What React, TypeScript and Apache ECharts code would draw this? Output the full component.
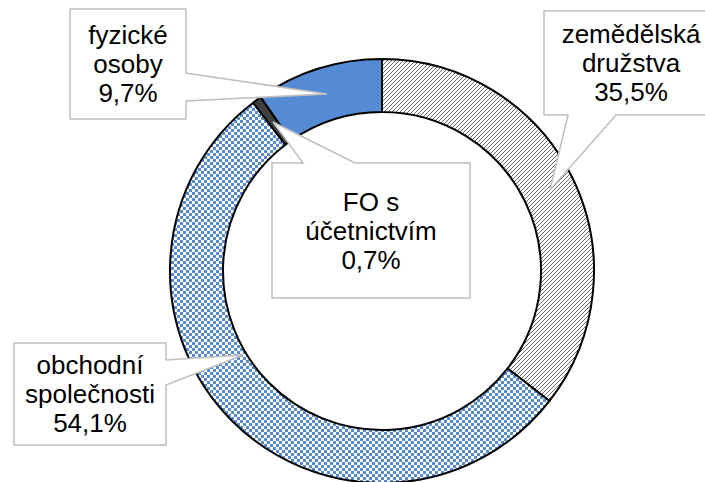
import React, { useEffect, useRef } from "react";
import * as echarts from "echarts";

const categories = ["zemědělská družstva", "obchodní společnosti", "FO s účetnictvím", "fyzické osoby"];
const values = [35.5, 54.1, 0.7, 9.7];
const labelTexts = ["zemědělská\ndružstva\n35,5%", "obchodní\nspolečnosti\n54,1%", "FO s\núčetnictvím\n0,7%", "fyzické\nosoby\n9,7%"];

const BLUE = "#558BD5";

// callout layouts: box [x1,y1,x2,y2], wedge points
const callouts = [
  { box: [544, 11, 716, 115], side: "bottom", base: [568, 616], tip: [550, 190] },
  { box: [14, 343, 166, 445], side: "right", base: [360, 385], tip: [243, 355] },
  { box: [272, 163, 470, 298], side: "top", base: [303, 355], tip: [273, 122] },
  { box: [70, 9, 186, 119], side: "right", base: [73, 101], tip: [327, 94] },
];

function calloutPoints(c: any): number[][] {
  const [x1, y1, x2, y2] = c.box;
  const [b1, b2] = c.base;
  const t = c.tip;
  if (c.side === "bottom") {
    return [[x1, y1], [x2, y1], [x2, y2], [b2, y2], t, [b1, y2], [x1, y2]];
  }
  if (c.side === "top") {
    return [[x1, y1], [b1, y1], t, [b2, y1], [x2, y1], [x2, y2], [x1, y2]];
  }
  return [[x1, y1], [x2, y1], [x2, b1], t, [x2, b2], [x2, y2], [x1, y2]];
}

function makeChecker(): HTMLCanvasElement {
  const c = document.createElement("canvas");
  c.width = 6;
  c.height = 6;
  const ctx = c.getContext("2d")!;
  ctx.fillStyle = "#ffffff";
  ctx.fillRect(0, 0, 6, 6);
  ctx.fillStyle = BLUE;
  ctx.fillRect(0, 0, 3, 3);
  ctx.fillRect(3, 3, 3, 3);
  return c;
}

function makeHatch(): HTMLCanvasElement {
  const c = document.createElement("canvas");
  c.width = 8;
  c.height = 8;
  const ctx = c.getContext("2d")!;
  ctx.fillStyle = "#ffffff";
  ctx.fillRect(0, 0, 8, 8);
  ctx.fillStyle = "#6a6a6a";
  for (let i = 0; i < 8; i++) {
    const y = 7 - i;
    ctx.fillRect(i, y, 1, 1);
    ctx.fillRect((i + 4) % 8, y, 1, 1);
  }
  return c;
}

export default function App() {
  const ref = useRef<HTMLDivElement>(null);
  useEffect(() => {
    document.body.style.margin = "0";
    const chart = echarts.init(ref.current!, null, { renderer: "svg" });
    const fills: any[] = [
      { image: makeHatch(), repeat: "repeat" },
      { image: makeChecker(), repeat: "repeat" },
      "#404040",
      BLUE,
    ];
    const graphics: any[] = [];
    callouts.forEach((c, i) => {
      const [x1, y1, x2, y2] = c.box;
      graphics.push({
        type: "polygon",
        shape: { points: calloutPoints(c) },
        style: { fill: "#fff", stroke: "#bfbfbf", lineWidth: 1.5 },
        z: 10,
      });
      graphics.push({
        type: "text",
        x: (x1 + x2) / 2 + (i === 0 ? 1 : 0),
        y: (y1 + y2) / 2,
        style: {
          text: labelTexts[i],
          font: '26px "Liberation Sans", Arial, sans-serif',
          fill: "#000",
          align: "center",
          verticalAlign: "middle",
          lineHeight: 29,
        },
        z: 11,
      });
    });
    chart.setOption({
      animation: false,
      backgroundColor: "#fff",
      series: [
        {
          type: "pie",
          center: [382, 271],
          radius: [159, 212],
          startAngle: 90,
          clockwise: true,
          label: { show: false },
          labelLine: { show: false },
          emphasis: { disabled: true },
          itemStyle: { borderColor: "#000", borderWidth: 2 },
          data: categories.map((name, i) => ({
            name,
            value: values[i],
            itemStyle: { color: fills[i] },
          })),
        },
      ],
      graphic: graphics,
    });
    return () => chart.dispose();
  }, []);
  return <div ref={ref} style={{ width: 705, height: 482 }} />;
}
